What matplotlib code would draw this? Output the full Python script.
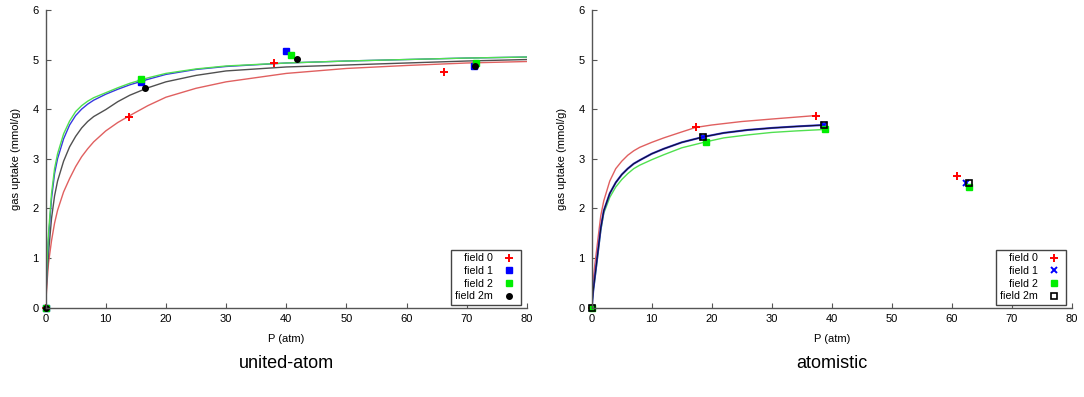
import matplotlib
matplotlib.use('Agg')
import matplotlib.pyplot as plt

plt.rcParams['font.family'] = ['Liberation Sans', 'DejaVu Sans']

# ---- united-atom: simulated points ----
ua_p0 = [0, 13.9, 38.0, 66.2]
ua_q0 = [0, 3.85, 4.92, 4.74]
ua_p1 = [0, 15.8, 39.9, 71.2]
ua_q1 = [0, 4.55, 5.18, 4.86]
ua_p2 = [0, 15.8, 40.8, 71.5]
ua_q2 = [0, 4.60, 5.09, 4.92]
ua_p2m = [0, 16.6, 41.7, 71.3]
ua_q2m = [0, 4.43, 5.02, 4.86]

# ---- united-atom: fitted curves ----
ua_fit_p = [0, 0.25, 0.5, 1, 1.5, 2, 3, 4, 5, 6, 7, 8, 10, 12, 14, 17, 20, 25, 30, 40, 50, 60, 70, 80]
ua_fit0 = [0, 0.5, 0.9, 1.35, 1.7, 1.96, 2.33, 2.6, 2.84, 3.04, 3.2, 3.34, 3.56, 3.73, 3.87,
           4.07, 4.24, 4.42, 4.55, 4.72, 4.82, 4.88, 4.93, 4.96]
ua_fit1 = [0, 0.85, 1.4, 2.2, 2.7, 3.0, 3.4, 3.68, 3.87, 4.0, 4.1, 4.18, 4.3, 4.4, 4.49,
           4.6, 4.7, 4.8, 4.86, 4.93, 4.97, 5.0, 5.03, 5.05]
ua_fit2 = [0, 0.9, 1.5, 2.3, 2.8, 3.1, 3.5, 3.76, 3.95, 4.07, 4.16, 4.23, 4.33, 4.43, 4.52,
           4.63, 4.72, 4.81, 4.87, 4.93, 4.97, 5.0, 5.03, 5.05]
ua_fit2m = [0, 0.65, 1.1, 1.8, 2.25, 2.55, 2.95, 3.24, 3.45, 3.62, 3.75, 3.85, 3.99, 4.15, 4.28,
            4.43, 4.55, 4.68, 4.77, 4.85, 4.89, 4.93, 4.97, 5.0]

# ---- atomistic: simulated points ----
at_p0 = [0, 17.3, 37.3, 60.9]
at_q0 = [0, 3.63, 3.87, 2.66]
at_p1 = [0, 18.6, 38.7, 62.3]
at_q1 = [0, 3.44, 3.68, 2.52]
at_p2 = [0, 19.0, 38.9, 62.9]
at_q2 = [0, 3.34, 3.59, 2.43]
at_p2m = [0, 18.6, 38.7, 62.8]
at_q2m = [0, 3.44, 3.68, 2.52]

# ---- atomistic: fitted curves ----
at_fit_p0 = [0, 0.25, 0.5, 1, 1.5, 2, 3, 4, 5, 6, 7, 8, 10, 12, 15, 17.3, 20, 25, 30, 37.3]
at_fit0 = [0, 0.55, 0.85, 1.35, 1.85, 2.15, 2.55, 2.8, 2.95, 3.07, 3.16, 3.23, 3.33, 3.42,
           3.54, 3.63, 3.68, 3.75, 3.8, 3.87]
at_fit_p1 = [0, 0.25, 0.5, 1, 1.5, 2, 3, 4, 5, 6, 7, 8, 10, 12, 15, 18.6, 22, 26, 30, 34, 38.7]
at_fit1 = [0, 0.35, 0.6, 1.1, 1.6, 1.95, 2.3, 2.52, 2.68, 2.8, 2.9, 2.97, 3.1, 3.2, 3.33,
           3.44, 3.52, 3.58, 3.62, 3.65, 3.68]
at_fit_p2 = [0, 0.25, 0.5, 1, 1.5, 2, 3, 4, 5, 6, 7, 8, 10, 12, 15, 19.0, 22, 26, 30, 34, 38.9]
at_fit2 = [0, 0.32, 0.55, 1.05, 1.55, 1.9, 2.22, 2.43, 2.58, 2.7, 2.8, 2.87, 2.98, 3.08, 3.22,
           3.34, 3.42, 3.48, 3.53, 3.56, 3.59]

labels = ['field 0', 'field 1', 'field 2', 'field 2m']
red, blue, green, black = '#ff0000', '#0000ff', '#00ee00', '#000000'
line_red, line_blue, line_green, line_black = '#e06060', '#3838e0', '#50e050', '#505050'

fig = plt.figure(figsize=(10.84, 3.97), dpi=100)
ax1 = fig.add_axes([0.042, 0.2254, 0.4442, 0.7496])
ax2 = fig.add_axes([0.5459, 0.2254, 0.4428, 0.7496])


def style(ax, title):
    ax.set_xlim(0, 80)
    ax.set_ylim(0, 6)
    ax.set_xticks(range(0, 81, 10))
    ax.set_yticks(range(0, 7))
    for s in ['top', 'right']:
        ax.spines[s].set_visible(False)
    for s in ['left', 'bottom']:
        ax.spines[s].set_color('#555555')
        ax.spines[s].set_linewidth(1.0)
    ax.tick_params(direction='in', length=3.5, color='#555555', labelsize=8, pad=5)
    ax.set_xlabel('P (atm)', fontsize=8, labelpad=7)
    ax.set_ylabel('gas uptake (mmol/g)', fontsize=8, labelpad=8)
    ax.text(0.5, -0.187, title, transform=ax.transAxes, ha='center', va='center', fontsize=13)
    leg = ax.legend(loc='lower right', bbox_to_anchor=(0.988, 0.008), borderaxespad=0,
                    markerfirst=False, fontsize=7.7, fancybox=False, handlelength=1.6,
                    handletextpad=0.7, labelspacing=0.25, borderpad=0.35, framealpha=1)
    leg.get_frame().set_edgecolor('#444444')
    leg.get_frame().set_linewidth(1.0)


# united-atom
ax1.plot(ua_fit_p, ua_fit0, color=line_red, lw=1.0)
ax1.plot(ua_fit_p, ua_fit2m, color=line_black, lw=1.0)
ax1.plot(ua_fit_p, ua_fit1, color=line_blue, lw=1.0)
ax1.plot(ua_fit_p, ua_fit2, color=line_green, lw=1.0)
ax1.plot(ua_p0, ua_q0, ls='none', marker='+', ms=5.5, mew=1.4, color=red, label=labels[0], clip_on=False)
ax1.plot(ua_p1, ua_q1, ls='none', marker='s', ms=4, color=blue, label=labels[1], clip_on=False)
ax1.plot(ua_p2, ua_q2, ls='none', marker='s', ms=4, color=green, label=labels[2], clip_on=False)
ax1.plot(ua_p2m, ua_q2m, ls='none', marker='o', ms=4, color=black, label=labels[3], clip_on=False)
style(ax1, 'united-atom')

# atomistic
ax2.plot(at_fit_p0, at_fit0, color=line_red, lw=1.0)
ax2.plot(at_fit_p2, at_fit2, color=line_green, lw=1.0)
ax2.plot(at_fit_p1, at_fit1, color=line_blue, lw=1.5)
ax2.plot(at_fit_p1, at_fit1, color='#101030', lw=0.8)
ax2.plot(at_p0, at_q0, ls='none', marker='+', ms=5.5, mew=1.4, color=red, label=labels[0], clip_on=False)
ax2.plot(at_p1, at_q1, ls='none', marker='x', ms=4, mew=1.4, color=blue, label=labels[1], clip_on=False)
ax2.plot(at_p2, at_q2, ls='none', marker='s', ms=4, color=green, label=labels[2], clip_on=False)
ax2.plot(at_p2m, at_q2m, ls='none', marker='s', ms=4, mew=1.2, mfc='none', color=black,
         label=labels[3], clip_on=False)
style(ax2, 'atomistic')

fig.savefig('out.png', dpi=100)
